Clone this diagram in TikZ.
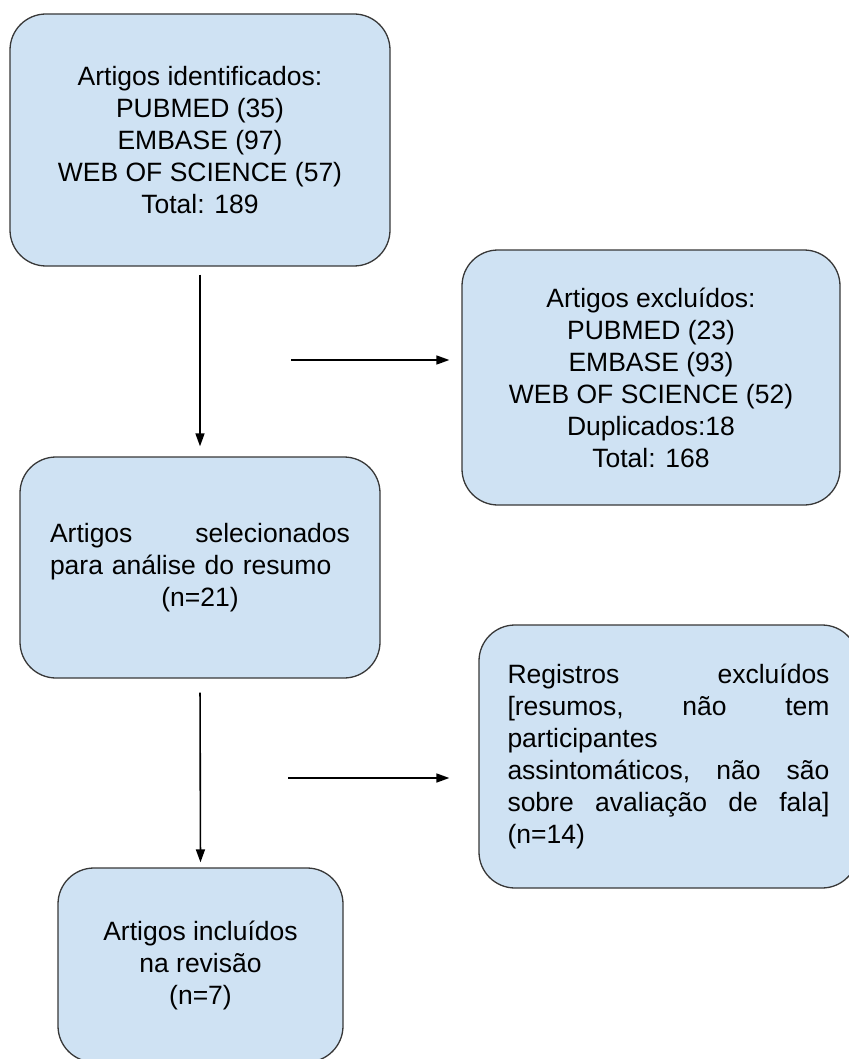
\documentclass[tikz,border=0pt]{standalone}
\usepackage{fontspec}
\setmainfont{Liberation Sans}
\usepackage{tikz}
\usetikzlibrary{arrows.meta}
\usetikzlibrary{calc}
\definecolor{caixaazul}{HTML}{CFE2F3}
\definecolor{contorno}{HTML}{383838}
\tikzset{caixa/.style={draw=contorno, fill=caixaazul, line width=1.3pt, rounded corners=36pt,
  font=\fontsize{26.5}{32}\selectfont, align=center, inner sep=0pt}}
\tikzset{seta/.style={black, line width=1.6pt, ->, >={Triangle[length=13pt,width=9pt]}}}

\begin{document}
\begin{tikzpicture}[x=1pt,y=-1pt]
\useasboundingbox (0,0) rectangle (848,1059);
\node[caixa, minimum width=380, minimum height=252] (ident) at (200,140)
  {Artigos identificados:\\ PUBMED (35)\\ EMBASE (97)\\ WEB OF SCIENCE (57)\\ Total: 189};
\node[caixa, minimum width=378, minimum height=255] (excl) at (651,377.5)
  {Artigos excluídos:\\ PUBMED (23)\\ EMBASE (93)\\ WEB OF SCIENCE (52)\\ Duplicados:18\\ Total: 168};
\node[caixa, minimum width=360, minimum height=221, align=left, text width=300] (sel) at (200,567.5)
  {Artigos\hfill selecionados\\ para análise do resumo\\ \makebox[300pt]{(n=21)}};
\node[caixa, minimum width=379, minimum height=263, align=left, text width=322] (reg) at (668.5,756.5)
  {Registros\hfill excluídos\\ {[}resumos,\hfill não\hfill tem\\ participantes\\
   assintomáticos,\hfill não\hfill são\\ sobre\hfill avaliação\hfill de\hfill fala]\\ (n=14)};
\node[caixa, minimum width=285, minimum height=194] (incl) at (200.5,965)
  {Artigos incluídos\\ na revisão\\ (n=7)};
% setas
\coordinate (h1) at (291,360);
\coordinate (h2) at (288,778);
\draw[seta, shorten <=8pt, shorten >=10pt] (ident.south) -- (sel.north);
\draw[seta, shorten >=12pt] (h1) -- (h1 -| excl.west);
\draw[seta, shorten <=14pt, shorten >=5pt] (sel.south) -- (incl.north);
\draw[seta, shorten >=29pt] (h2) -- (h2 -| reg.west);
\end{tikzpicture}
\end{document}
